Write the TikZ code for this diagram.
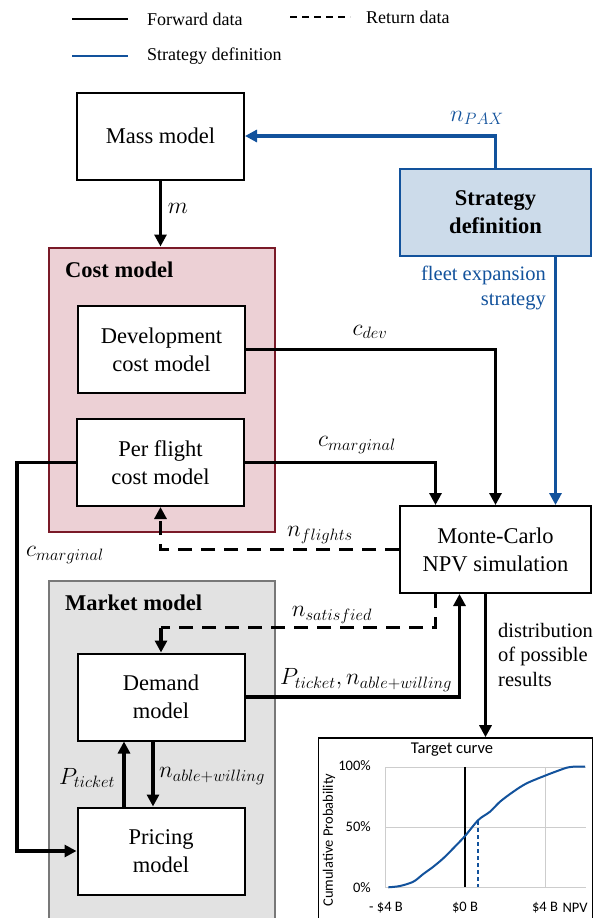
\RequirePackage{fix-cm}
\documentclass[tikz,border=0pt]{standalone}
\usepackage{fontspec}
\setmainfont{Liberation Serif}
\newfontfamily\chartfont{Carlito}
\usetikzlibrary{arrows.meta,calc}
\definecolor{sblue}{RGB}{18,82,156}
\definecolor{sfill}{RGB}{204,219,234}
\definecolor{cpink}{RGB}{236,208,213}
\definecolor{cred}{RGB}{122,26,40}
\definecolor{mfill}{RGB}{226,226,226}
\definecolor{mgray}{RGB}{120,120,120}
\definecolor{gridgray}{RGB}{205,205,205}
\begin{document}
\begin{tikzpicture}[x=1pt,y=-1pt,
  box/.style={draw, line width=2pt, fill=white, minimum width=167pt, minimum height=87pt,
    align=center, font=\fontsize{22.5}{28}\selectfont, inner sep=2pt},
  container/.style={line width=2pt, minimum width=226pt},
  ctitle/.style={anchor=west, font=\fontsize{22.5}{28}\selectfont\bfseries, inner sep=0pt},
  fwd/.style={line width=3.2pt, -{Triangle[length=12pt,width=12pt]}},
  ret/.style={fwd, dash pattern=on 14pt off 9pt},
  strat/.style={fwd, draw=sblue, -{Triangle[length=12pt,width=12pt,fill=sblue]}},
  lbl/.style={font=\fontsize{23.5}{28}\selectfont, inner sep=0pt},
  txt/.style={font=\fontsize{20.5}{24.5}\selectfont, inner sep=0pt},
  leg/.style={anchor=west, font=\fontsize{18}{22}\selectfont, inner sep=0pt},
  ctick/.style={font=\chartfont\fontsize{14.5}{17}\selectfont, inner sep=0pt}
]
\useasboundingbox (0,0) rectangle (603,918);
\clip (0,0) rectangle (603,918);

% legend
\coordinate (l1a) at (72,19); \coordinate (l1b) at (128,19);
\coordinate (l2a) at (290,17); \coordinate (l2b) at (350,17);
\coordinate (l3a) at (72,56); \coordinate (l3b) at (128,56);
\draw[line width=2.4pt] (l1a) -- (l1b);
\draw[line width=2.4pt, dash pattern=on 7pt off 5pt] (l2a) -- (l2b);
\draw[line width=2.4pt, sblue] (l3a) -- (l3b);
\node[leg] (lf) at (147,19) {Forward data};
\node[leg] (lr) at (366,17) {Return data};
\node[leg] (ls) at (147,56) {Strategy definition};

% containers
\node[container, draw=cred, fill=cpink, minimum height=284pt] (cost) at (161.5,389.5) {};
\node[ctitle] (costt) at (65,270) {Cost model};
\node[container, draw=mgray, fill=mfill, minimum height=346pt] (market) at (161.5,754) {};
\node[ctitle] (markett) at (65,603) {Market model};

% boxes
\node[box] (mass) at (160.5,136) {Mass model};
\node[box] (dev) at (161.5,349.5) {Development\\cost model};
\node[box] (pf) at (160.5,462.5) {Per flight\\cost model};
\node[box] (demand) at (161,697) {Demand\\model};
\node[box] (pricing) at (161,851) {Pricing\\model};
\node[box, draw=sblue, fill=sfill, minimum width=191pt, font=\fontsize{22.5}{28}\selectfont\bfseries] (strat) at (495.5,212) {Strategy\\definition};
\node[box, minimum width=191pt] (mc) at (495.5,549.5) {Monte-Carlo\\NPV simulation};
\node[draw, line width=1.6pt, fill=white, minimum width=274pt, minimum height=190pt] (chart) at (455.5,833) {};

% connectors
\draw[fwd] (mass.south) -- (mass.south |- cost.north);
\draw[strat] (strat.north) |- (mass.east);
\draw[strat] ([xshift=60pt]strat.south) -- ([xshift=60pt]mc.north);
\draw[fwd] (dev.east) -| (mc.north);
\draw[fwd] (pf.east) -| ([xshift=-60pt]mc.north);
\draw[ret] (mc.west) -| (pf.south);
\draw[fwd] (pf.west) -- ++(-59,0) |- (pricing.west);
\coordinate (sat) at ([yshift=25pt]demand.north);
\draw[line width=3.2pt, dash pattern=on 14pt off 9pt] ([xshift=-60pt]mc.south) |- (sat);
\draw[fwd] (sat) -- (demand.north);
\draw[fwd] (demand.east) -| ([xshift=-36pt]mc.south);
\draw[fwd] ([xshift=-37pt]pricing.north) -- ([xshift=-37pt]demand.south);
\draw[fwd] ([xshift=-8pt]demand.south) -- ([xshift=-8pt]pricing.north);
\draw[fwd] ([xshift=-10pt]mc.south) -- ([xshift=-10pt]mc.south |- chart.north);

% labels
\node[lbl] (lm) at (178,208) {$m$};
\node[lbl, text=sblue] (lpax) at (477,118) {$n_{PAX}$};
\node[lbl] (lcdev) at (370,332) {$c_{dev}$};
\node[lbl] (lcm) at (357,445) {$c_{marginal}$};
\node[lbl] (lnf) at (320,535) {$n_{flights}$};
\node[lbl] (lcm2) at (65,555) {$c_{marginal}$};
\node[lbl] (lns) at (332,615) {$n_{satisfied}$};
\node[lbl] (lpn) at (366,680) {$P_{ticket}, n_{able+willing}$};
\node[lbl] (lpt) at (87,778) {$P_{ticket}$};
\node[lbl] (lnaw) at (212,776) {$n_{able+willing}$};
\node[txt, text=sblue, align=right, anchor=north east] (lfleet) at (546,266) {fleet expansion\\strategy};
\node[txt, align=left, anchor=north west] (ldist) at (498,623) {distribution\\of possible\\results};

% chart
\draw[gridgray, line width=1pt] (385,767) -- (586,767) (385,827) -- (586,827) (385,887) -- (586,887)
  (385,767) -- (385,887) (545,767) -- (545,887);
\draw[black, line width=1.3pt] (465,767) -- (465,887);
\draw[sblue, line width=1.3pt, dash pattern=on 4pt off 3pt] (478,821) -- (478,887);
\draw[sblue, line width=2pt] plot[smooth, tension=0.5] coordinates {(388.3,887.3) (400,886) (413.3,881.7) (423.3,874) (433.3,866.7) (443.3,858.3) (453.3,848.3) (465,836) (478.3,820) (490,811.7) (500,801.7) (513.3,791.7) (526.7,783.3) (546.7,775) (560,770) (566.7,767.7) (573.3,766.7) (585,766.7)};
\node[ctick, font=\chartfont\fontsize{16.5}{19}\selectfont] (ctitle) at (452,750) {Target curve};
\node[ctick, anchor=east] (t100) at (371,766) {100\%};
\node[ctick, anchor=east] (t50) at (371,827) {50\%};
\node[ctick, anchor=east] (t0) at (371,888) {0\%};
\node[ctick] (xm4) at (386,908) {- \$4 B};
\node[ctick] (x0) at (465,908) {\$0 B};
\node[ctick] (x4) at (545,908) {\$4 B};
\node[ctick] (xnpv) at (575,908) {NPV};
\node[ctick, rotate=90] (ylab) at (329,840) {Cumulative Probability};
\end{tikzpicture}
\end{document}
